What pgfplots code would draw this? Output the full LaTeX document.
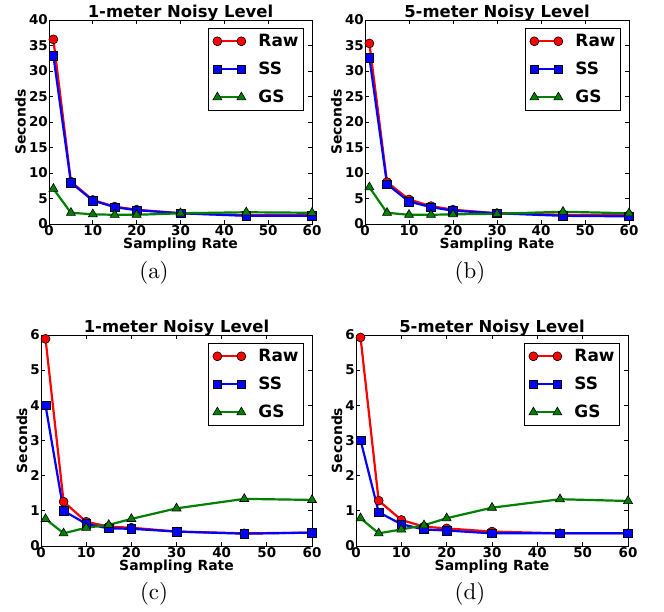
\documentclass[border=0pt]{standalone}
\usepackage{fontspec}
\setsansfont{DejaVu Sans}
\newfontfamily\capfont{lmroman10-regular.otf}
\usepackage{pgfplots}
\pgfplotsset{compat=1.18}
\definecolor{mplgreen}{rgb}{0,0.5,0}
\pgfplotsset{
  base/.style={
    scale only axis,
    xmin=0,xmax=60,
    xtick={0,10,...,60},
    tick align=inside,
    major tick length=4bp,
    axis line style={line width=0.8bp},
    every tick/.style={black, line width=0.8bp},
    tick label style={font=\fontsize{13.5}{16}\selectfont\sffamily\bfseries, inner sep=1bp},
    /pgf/number format/assume math mode=true,
    label style={font=\fontsize{14}{17}\selectfont\sffamily\bfseries},
    xlabel={Sampling Rate},
    ylabel={Seconds},
    xlabel style={inner sep=1bp},
    ylabel style={inner sep=2bp},
    every axis title shift=0pt,
    title style={font=\fontsize{16.5}{20}\selectfont\sffamily\bfseries, inner sep=0pt, yshift=-1bp},
    legend style={at={(1,1)}, anchor=north east, xshift=-8bp, yshift=-8bp,
      draw=black, line width=0.8bp, inner xsep=3bp, inner ysep=4bp,
      font=\fontsize{17}{20}\selectfont\sffamily\bfseries,
      row sep=10bp,
      nodes={inner sep=2bp}},
    legend cell align=left,
    legend image code/.code={\draw[#1] plot coordinates {(0bp,0bp) (24bp,0bp)}; \path (-5bp,0bp) (38bp,0bp);},
  },
  raw/.style={red, line width=2.2bp, mark=*, mark size=4.5bp, mark options={draw=black, fill=red, line width=0.6bp}},
  ss/.style={blue, line width=2.2bp, mark=square*, mark size=4.3bp, mark options={draw=black, fill=blue, line width=0.6bp}},
  gs/.style={mplgreen, line width=2.2bp, mark=triangle*, mark size=5.2bp, mark options={draw=black, fill=mplgreen, line width=0.6bp}},
}
\begin{document}
\begin{tikzpicture}[x=1bp,y=1bp]
\path[use as bounding box] (0,0) rectangle (664,612);
% (a)
\begin{axis}[base, at={(49bp,388bp)}, anchor=south west, width=263bp, height=204bp,
  ymin=0, ymax=40, ytick={0,5,...,40}, title={1-meter Noisy Level}]
\addplot[raw] coordinates {(1,36.2) (5,8.3) (10,4.7) (15,3.4) (20,2.8) (30,2.1) (45,1.7) (60,1.7)};
\addplot[ss] coordinates {(1,33.0) (5,8.1) (10,4.6) (15,3.3) (20,2.7) (30,2.1) (45,1.6) (60,1.6)};
\addplot[gs] coordinates {(1,6.9) (5,2.2) (10,1.9) (15,1.8) (20,1.8) (30,2.1) (45,2.3) (60,2.2)};
\legend{Raw,SS,GS}
\end{axis}
% (b)
\begin{axis}[base, at={(365bp,388bp)}, anchor=south west, width=264bp, height=204bp,
  ymin=0, ymax=40, ytick={0,5,...,40}, title={5-meter Noisy Level}]
\addplot[raw] coordinates {(1,35.4) (5,8.2) (10,4.8) (15,3.5) (20,2.8) (30,2.1) (45,1.8) (60,1.7)};
\addplot[ss] coordinates {(1,32.6) (5,7.8) (10,4.4) (15,3.3) (20,2.6) (30,2.1) (45,1.6) (60,1.5)};
\addplot[gs] coordinates {(1,7.2) (5,2.2) (10,1.8) (15,1.8) (20,1.9) (30,2.0) (45,2.4) (60,2.1)};
\legend{Raw,SS,GS}
\end{axis}
% (c)
\begin{axis}[base, at={(41bp,66bp)}, anchor=south west, width=271bp, height=211bp,
  ymin=0, ymax=6, ytick={0,1,...,6}, title={1-meter Noisy Level}]
\addplot[raw] coordinates {(1,5.89) (5,1.26) (10,0.69) (15,0.55) (20,0.52) (30,0.41) (45,0.36) (60,0.38)};
\addplot[ss] coordinates {(1,4.0) (5,1.0) (10,0.63) (15,0.5) (20,0.49) (30,0.41) (45,0.35) (60,0.38)};
\addplot[gs] coordinates {(1,0.77) (5,0.36) (10,0.52) (15,0.6) (20,0.77) (30,1.07) (45,1.34) (60,1.31)};
\legend{Raw,SS,GS}
\end{axis}
% (d)
\begin{axis}[base, at={(356bp,66bp)}, anchor=south west, width=272bp, height=211bp,
  ymin=0, ymax=6, ytick={0,1,...,6}, title={5-meter Noisy Level}]
\addplot[raw] coordinates {(1,5.93) (5,1.29) (10,0.74) (15,0.55) (20,0.5) (30,0.41) (45,0.36) (60,0.36)};
\addplot[ss] coordinates {(1,3.01) (5,0.96) (10,0.62) (15,0.47) (20,0.44) (30,0.36) (45,0.36) (60,0.36)};
\addplot[gs] coordinates {(1,0.79) (5,0.36) (10,0.47) (15,0.59) (20,0.79) (30,1.09) (45,1.33) (60,1.28)};
\legend{Raw,SS,GS}
\end{axis}
\node[font=\capfont\fontsize{23}{27}\selectfont] at (154,339) {(a)};
\node[font=\capfont\fontsize{23}{27}\selectfont] at (470,339) {(b)};
\node[font=\capfont\fontsize{23}{27}\selectfont] at (154,18) {(c)};
\node[font=\capfont\fontsize{23}{27}\selectfont] at (470,18) {(d)};
\end{tikzpicture}
\end{document}
